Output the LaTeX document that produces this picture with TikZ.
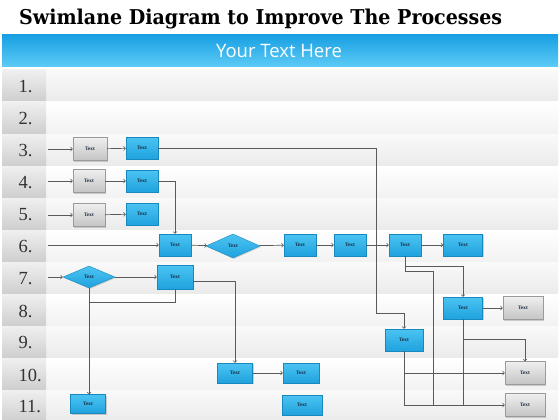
\documentclass[tikz,border=0pt]{standalone}
\usepackage{fontspec}
\usetikzlibrary{calc}
\usetikzlibrary{arrows}
\usetikzlibrary{shapes.geometric,shadows}
\newfontfamily\titlefont{DejaVu Serif}
\newfontfamily\barfont{Open Sans}
\newfontfamily\numfont{Liberation Serif}
\definecolor{bartop}{HTML}{19A0E3}
\definecolor{barbot}{HTML}{5DCBF6}
\definecolor{boxtop}{HTML}{4CC4F2}
\definecolor{boxbot}{HTML}{1FA2DE}
\definecolor{boxedge}{HTML}{1789BE}
\definecolor{greytop}{HTML}{EFEFEF}
\definecolor{greybot}{HTML}{C4C4C4}
\definecolor{greyedge}{HTML}{9A9A9A}
\definecolor{flowline}{HTML}{5A5A5A}
\definecolor{boxink}{HTML}{17263A}
\tikzset{
  boxtext/.style={text=boxink, font=\numfont\bfseries\fontsize{5.2}{6}\selectfont},
  bluebox/.style={boxtext, draw=boxedge, top color=boxtop, bottom color=boxbot,
    minimum width=32pt, minimum height=22pt, inner sep=0pt,
    drop shadow={shadow xshift=1pt, shadow yshift=-1pt, opacity=.35}},
  graybox/.style={boxtext, draw=greyedge, top color=greytop, bottom color=greybot,
    minimum width=34pt, minimum height=23pt, inner sep=0pt,
    drop shadow={shadow xshift=1pt, shadow yshift=-1pt, opacity=.35}},
  bluediamond/.style={boxtext, diamond, draw=boxedge, top color=boxtop, bottom color=boxbot,
    minimum width=54pt, minimum height=24pt, inner sep=0pt, aspect=2.2,
    drop shadow={shadow xshift=1pt, shadow yshift=-1pt, opacity=.3}},
  flow/.style={draw=flowline, line width=.7pt, ->, >=to},
  plain/.style={draw=flowline, line width=.7pt},
  rowlabel/.style={anchor=west, text=black!80, font=\numfont\fontsize{18.5}{20}\selectfont}
}

\begin{document}
\begin{tikzpicture}[x=1pt,y=-1pt]
\useasboundingbox (0,0) rectangle (560,420);
\fill[white] (0,0) rectangle (560,420);

% title and header bar
\node[anchor=base west, inner sep=0pt] (title) at (19,25)
  {\resizebox{483pt}{15.5pt}{\titlefont\bfseries Swimlane Diagram to Improve The Processes}};
\shade[top color=bartop, bottom color=barbot] (2,35) rectangle (558,67);
\node[text=white, font=\barfont\fontsize{18.5}{20}\selectfont] (bar) at (279,51) {Your Text Here};

% lanes
\foreach \i in {1,...,11} {
  \pgfmathsetmacro\ytop{70+32*(\i-1)}
  \pgfmathsetmacro\ybot{\ytop+31}
  \pgfmathsetmacro\ymid{\ytop+17}
  \ifodd\i
    \shade[top color=black!2, bottom color=black!8] (46,\ytop) rectangle (558,\ybot);
  \else
    \shade[top color=white, bottom color=black!5] (46,\ytop) rectangle (558,\ybot);
  \fi
  \shade[top color=black!6, bottom color=black!19] (2,\ytop) rectangle (46,\ybot);
  \node[rowlabel] (n\i) at (15,\ymid) {\i.};
}

% row starts
\coordinate (s3) at (48,149);
\coordinate (s4) at (48,181);
\coordinate (s5) at (48,215);
\coordinate (s6) at (48,245);
\coordinate (s7) at (48,277);

% boxes
\node[graybox] (g3) at (90,149) {Text};
\node[bluebox] (b3) at (142,148) {Text};
\node[graybox, minimum width=32pt] (g4) at (89,181) {Text};
\node[bluebox] (b4) at (142,181) {Text};
\node[graybox, minimum width=32pt] (g5) at (89,215) {Text};
\node[bluebox] (b5) at (142,214) {Text};

\node[bluebox] (b6a) at (175,245) {Text};
\node[bluediamond] (d6) at (233,246) {Text};
\node[bluebox] (b6b) at (300,245) {Text};
\node[bluebox] (b6c) at (350,245) {Text};
\node[bluebox] (b6d) at (405,245) {Text};
\node[bluebox, minimum width=39pt] (b6e) at (463,245) {Text};

\node[bluediamond, minimum width=52pt, minimum height=22pt] (d7) at (89,277) {Text};
\node[bluebox, minimum width=36pt, minimum height=24pt] (b7) at (175,277) {Text};

\node[bluebox, minimum width=39pt] (b8) at (463,308) {Text};
\node[graybox, minimum width=40pt] (g8) at (523,308) {Text};

\node[bluebox, minimum width=38pt] (b9) at (404,340) {Text};

\node[bluebox, minimum width=35pt, minimum height=20pt] (b10a) at (235,373) {Text};
\node[bluebox, minimum width=36pt, minimum height=20pt] (b10b) at (301,373) {Text};
\node[graybox, minimum width=40pt] (g10) at (525,373) {Text};

\node[bluebox, minimum width=35pt, minimum height=19pt] (b11a) at (88,404) {Text};
\node[bluebox, minimum width=40pt, minimum height=20pt] (b11b) at (302,405) {Text};
\node[graybox, minimum width=40pt] (g11) at (525,405) {Text};

% junctions
\coordinate (k3) at (376,313);
\coordinate (k6a) at (405,266);
\coordinate (k6b) at (405,271);
\coordinate (k6c) at (433,405);
\coordinate (k7) at (89,302);
\coordinate (k8) at (463,339);

% rows 3-5
\draw[flow] (s3) -- (g3);
\draw[flow] (g3) -- (b3);
\draw[flow] (b3.east) -| (k3) -| (b9.north);
\draw[flow] (s4) -- (g4);
\draw[flow] (g4) -- (b4);
\draw[flow] (b4.east) -| (b6a.north);
\draw[flow] (s5) -- (g5);
\draw[flow] (g5) -- (b5);

% row 6
\draw[flow] (s6) -- (b6a);
\draw[flow] (b6a) -- (d6);
\draw[flow] (d6) -- (b6b);
\draw[flow] (b6b) -- (b6c);
\draw[flow] (b6c) -- (b6d);
\draw[flow] (b6d) -- (b6e);
\draw[flow] (b6d.south) -- (k6a) -| (b8.north);
\draw[plain] (k6a) -- (k6b) -| (k6c);

% row 7
\draw[flow] (s7) -- (d7);
\draw[flow] (d7) -- (b7);
\draw[flow] (d7.south) -- (d7.south |- b11a.north);
\draw[plain] (b7.south) |- (k7);
\draw[flow] ([yshift=-4pt]b7.east) -| (b10a.north);
\draw[flow] (b10a) -- (b10b);

% rows 8-11
\draw[flow] (b8) -- (g8);
\draw[plain] (b8.south) -- (b8.south |- g11.west);
\draw[flow] (k8) -| (g10.north);
\draw[flow] (b9.south) |- (g11.west);
\draw[flow] (b9.south |- g10.west) -- (g10.west);
\end{tikzpicture}
\end{document}
